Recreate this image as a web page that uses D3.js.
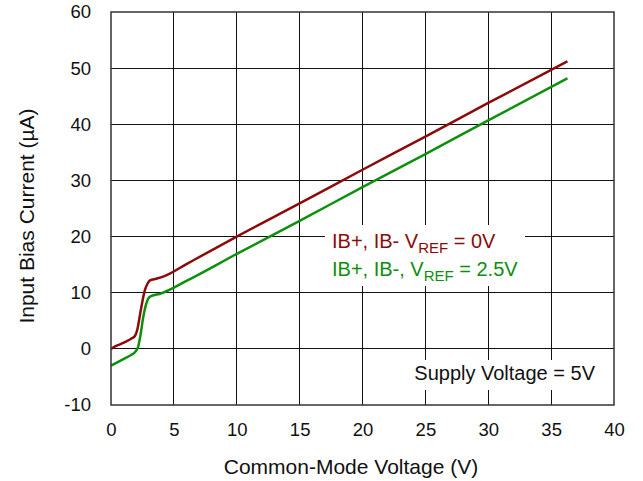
<!DOCTYPE html>
<html>
<head>
<meta charset="utf-8">
<script src="https://cdn.jsdelivr.net/npm/d3@7"></script>
<style>
  html, body { margin: 0; padding: 0; background: #fff; }
  svg { display: block; font-family: "Liberation Sans", Arial, sans-serif; }
</style>
</head>
<body>
<svg id="chart" width="643" height="481"></svg>
<script>
// ---- data ----
const xTicks = [0, 5, 10, 15, 20, 25, 30, 35, 40];
const yTicks = [-10, 0, 10, 20, 30, 40, 50, 60];
const vrefZeroX = [0, 0.5, 1.1, 1.6, 1.9, 2.1, 2.3, 2.5, 2.7, 2.9, 3.1, 3.6, 4.3, 6, 10, 15, 20, 25, 30, 36.3];
const vrefZeroY = [0, 0.6, 1.2, 1.8, 2.3, 3.5, 6.0, 8.5, 10.5, 11.6, 12.2, 12.5, 13.0, 15.1, 20.0, 25.9, 31.9, 37.8, 43.8, 51.2];
const vrefHalfX = [0, 0.5, 1.1, 1.6, 1.9, 2.15, 2.35, 2.55, 2.75, 2.95, 3.2, 3.9, 6, 10, 15, 20, 25, 30, 36.3];
const vrefHalfY = [-3, -2.4, -1.7, -1.1, -0.6, 0.3, 2.5, 5.5, 7.6, 8.9, 9.4, 9.8, 12.1, 16.9, 22.8, 28.8, 34.7, 40.7, 48.2];

const svg = d3.select("#chart");
const pL = 111, pR = 614, pT = 12, pB = 405;
const x = d3.scaleLinear().domain([0, 40]).range([pL, pR]);
const y = d3.scaleLinear().domain([-10, 60]).range([pB, pT]);

// title (mostly cut off at the top, as in the reference)
svg.append("text").attr("x", 408).attr("y", -4).attr("text-anchor", "end")
  .attr("font-size", 20).attr("font-weight", "bold").attr("fill", "#000")
  .text("Input Bias Current vs Common-Mode Voltage");

// grid
const grid = svg.append("g");
grid.selectAll("line.v").data(xTicks.slice(1, -1)).join("line")
  .attr("x1", d => x(d)).attr("x2", d => x(d)).attr("y1", pT).attr("y2", pB)
  .attr("stroke", "#111").attr("stroke-width", 1).attr("shape-rendering", "crispEdges");
grid.selectAll("line.h").data(yTicks.slice(1, -1)).join("line")
  .attr("y1", d => y(d)).attr("y2", d => y(d)).attr("x1", pL).attr("x2", pR)
  .attr("stroke", "#111").attr("stroke-width", 1).attr("shape-rendering", "crispEdges");

// axes (labels only)
const fmt = d => String(d);
const xAxis = d3.axisBottom(x).tickValues(xTicks).tickFormat(fmt).tickSize(0).tickPadding(18);
const gx = svg.append("g").attr("transform", `translate(0,${pB})`).call(xAxis);
gx.select(".domain").remove();
gx.selectAll("text").attr("font-size", 18.5).attr("font-family", "Liberation Sans, Arial, sans-serif").attr("fill", "#111");

const yAxis = d3.axisLeft(y).tickValues(yTicks).tickFormat(fmt).tickSize(0).tickPadding(20);
const gy = svg.append("g").attr("transform", `translate(${pL},0)`).call(yAxis);
gy.select(".domain").remove();
gy.selectAll("text").attr("font-size", 18.5).attr("font-family", "Liberation Sans, Arial, sans-serif").attr("fill", "#111");

// curves
const line = d3.line().x(d => x(d[0])).y(d => y(d[1])).curve(d3.curveMonotoneX);
const s1 = vrefZeroX.map((v, i) => [v, vrefZeroY[i]]);
const s2 = vrefHalfX.map((v, i) => [v, vrefHalfY[i]]);
svg.append("path").datum(s2).attr("d", line).attr("fill", "none")
  .attr("stroke", "#0e8f0e").attr("stroke-width", 2.5);
svg.append("path").datum(s1).attr("d", line).attr("fill", "none")
  .attr("stroke", "#8b0b0b").attr("stroke-width", 2.5);

// legend box
svg.append("rect").attr("x", 325).attr("y", 225).attr("width", 200).attr("height", 61).attr("fill", "#fff");
const leg = [
  { pre: "IB+, IB- V", post: " = 0V", color: "#8b0b0b", yb: 248 },
  { pre: "IB+, IB-, V", post: " = 2.5V", color: "#0e8f0e", yb: 276 }
];
leg.forEach(l => {
  const t = svg.append("text").attr("x", 332).attr("y", l.yb).attr("font-size", 20).attr("fill", l.color);
  t.append("tspan").text(l.pre);
  t.append("tspan").attr("font-size", 15).attr("dy", 5).text("REF");
  t.append("tspan").attr("dy", -5).text(l.post);
});

// supply voltage note
svg.append("rect").attr("x", 405).attr("y", 360).attr("width", 200).attr("height", 30).attr("fill", "#fff");
svg.append("text").attr("x", 595).attr("y", 380).attr("text-anchor", "end")
  .attr("font-size", 20).attr("fill", "#111").text("Supply Voltage = 5V");

// border
svg.append("rect").attr("x", pL).attr("y", pT).attr("width", pR - pL).attr("height", pB - pT)
  .attr("fill", "none").attr("stroke", "#333").attr("stroke-width", 1.5);

// axis titles
svg.append("text").attr("x", 351).attr("y", 474).attr("text-anchor", "middle")
  .attr("font-size", 21).attr("fill", "#111").text("Common-Mode Voltage (V)");
svg.append("text").attr("transform", "translate(34,216) rotate(-90)").attr("text-anchor", "middle")
  .attr("font-size", 21).attr("fill", "#111").text("Input Bias Current (µA)");
</script>
</body>
</html>
